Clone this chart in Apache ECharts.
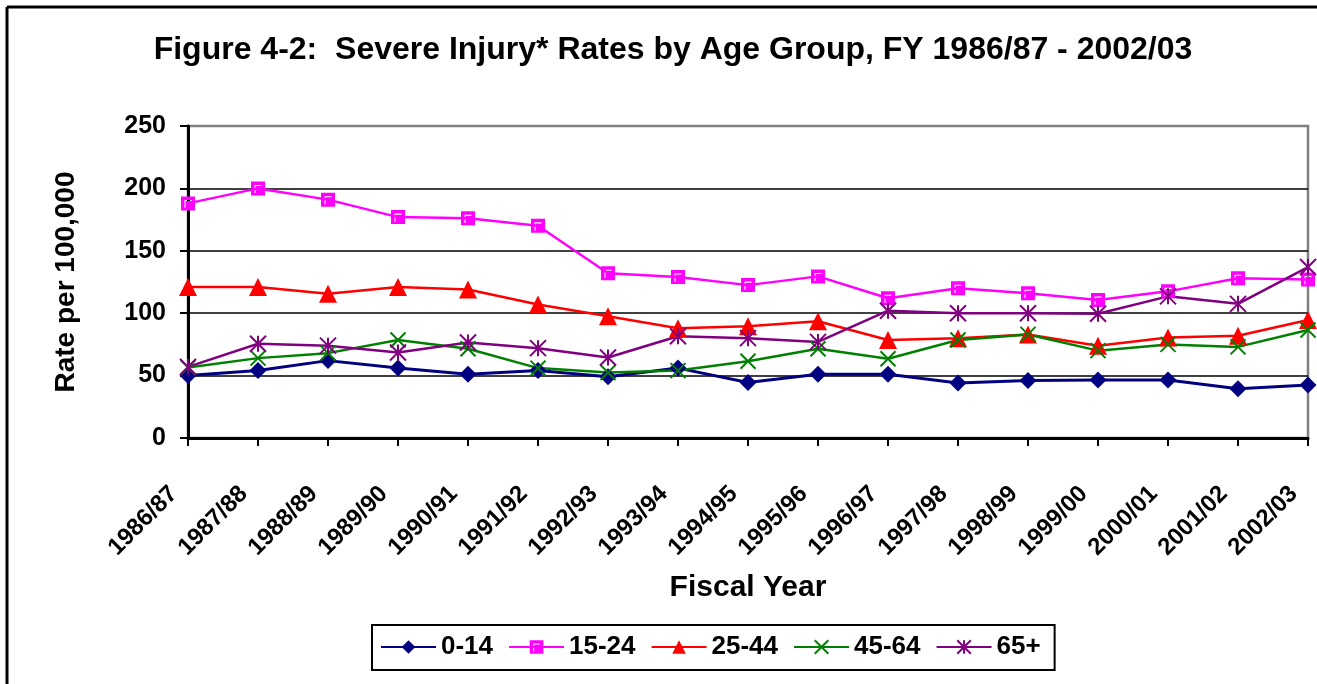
<!DOCTYPE html>
<html lang="en">
<head>
    <meta charset="UTF-8">
    <title>Figure 4-2: Severe Injury Rates by Age Group</title>
    <script src="https://cdn.jsdelivr.net/npm/echarts@6/dist/echarts.min.js"></script>
    <style>
        * {
            margin: 0;
            padding: 0;
            box-sizing: border-box;
        }

        body {
            background-color: #ffffff;
            overflow: hidden;
        }

        #chart {
            width: 1317px;
            height: 684px;
        }
    </style>
</head>
<body>
    <div id="chart"></div>

    <script>
        // fiscal years
        const years = ['1986/87', '1987/88', '1988/89', '1989/90', '1990/91', '1991/92', '1992/93', '1993/94',
            '1994/95', '1995/96', '1996/97', '1997/98', '1998/99', '1999/00', '2000/01', '2001/02', '2002/03'];

        // rates per 100,000, by age group
        const age0to14 = [50, 54, 62, 56, 51, 54, 49, 56, 44.5, 51, 51, 44, 46, 46.5, 46.5, 39.5, 42.5];
        const age15to24 = [188, 200, 191, 177, 176, 170, 132, 129, 122.5, 129.5, 112, 120, 116, 110.5, 117.5, 128, 127];
        const age25to44 = [121, 121, 115.5, 121, 119, 107, 97.5, 88, 89.5, 93.5, 78.5, 80, 83, 74, 80.5, 82, 94.5];
        const age45to64 = [56.5, 64, 68, 78.5, 71.5, 56, 52.5, 54, 61.5, 71.5, 63.5, 78.5, 83, 70, 75, 73, 86.5];
        const age65plus = [57, 75.5, 74, 68.5, 76.5, 72, 64.5, 81.5, 80, 77, 102, 100, 100, 99.5, 113.5, 107.5, 137];

        const yTicks = [0, 50, 100, 150, 200, 250];

        const font = 'Arial, "Liberation Sans", sans-serif';

        // excel-like marker shapes
        const squareMark = 'path://M0,0L12,0L12,12L0,12Z M3,3L3,10L3.9,10L3.9,3.9L9,3.9L9,3Z';
        const crossMark = 'path://M0,0L10,10M10,0L0,10';
        const starMark = 'path://M0,0L10,10M10,0L0,10M5,0L5,10';

        const chart = echarts.init(document.getElementById('chart'));

        function lineSeries(name, data, color, symbol, size, extra) {
            return Object.assign({
                name: name,
                type: 'line',
                data: data,
                symbol: symbol,
                symbolSize: size,
                lineStyle: { color: color, width: 2.5 },
                itemStyle: { color: color },
                emphasis: { disabled: true }
            }, extra || {});
        }

        chart.setOption({
            animation: false,
            backgroundColor: '#ffffff',
            title: {
                text: 'Figure 4-2:  Severe Injury* Rates by Age Group, FY 1986/87 - 2002/03',
                left: 668,
                textAlign: 'center',
                top: 29,
                textStyle: {
                    fontFamily: font,
                    fontSize: 32,
                    fontWeight: 'bold',
                    color: '#000'
                }
            },
            // outer frame: only top and left edges are visible
            graphic: [{
                type: 'line',
                shape: { x1: 7, y1: 7, x2: 1317, y2: 7 },
                style: { stroke: '#000', lineWidth: 3 },
                silent: true
            }, {
                type: 'line',
                shape: { x1: 7, y1: 7, x2: 7, y2: 684 },
                style: { stroke: '#000', lineWidth: 3 },
                silent: true
            }],
            legend: {
                left: 372,
                top: 625,
                itemWidth: 55,
                itemHeight: 17,
                itemGap: 15,
                padding: [9, 14, 10, 8],
                borderColor: '#000',
                borderWidth: 2,
                textStyle: {
                    fontFamily: font,
                    fontSize: 26,
                    fontWeight: 'bold',
                    color: '#000'
                }
            },
            grid: {
                left: 188,
                right: 9,
                top: 126,
                bottom: 246,
                show: true,
                borderColor: '#808080',
                borderWidth: 2.5
            },
            xAxis: {
                type: 'category',
                data: years,
                boundaryGap: false,
                name: 'Fiscal Year',
                nameLocation: 'middle',
                nameGap: 135,
                nameTextStyle: {
                    fontFamily: font,
                    fontSize: 30,
                    fontWeight: 'bold',
                    color: '#000'
                },
                axisLine: { lineStyle: { color: '#000', width: 3 } },
                axisTick: { show: true, length: 8, lineStyle: { color: '#000', width: 2 } },
                axisLabel: {
                    rotate: 45,
                    margin: 38,
                    padding: [0, 20, 0, 0],
                    interval: 0,
                    fontFamily: font,
                    fontSize: 24,
                    fontWeight: 'bold',
                    color: '#000'
                },
                splitLine: { show: false }
            },
            yAxis: {
                type: 'value',
                min: yTicks[0],
                max: yTicks[yTicks.length - 1],
                interval: 50,
                name: 'Rate per 100,000',
                nameLocation: 'middle',
                nameGap: 108,
                nameTextStyle: {
                    fontFamily: font,
                    fontSize: 28,
                    fontWeight: 'bold',
                    color: '#000'
                },
                axisLine: { show: true, lineStyle: { color: '#000', width: 3 } },
                axisTick: { show: true, length: 8, lineStyle: { color: '#000', width: 2 } },
                axisLabel: {
                    margin: 22,
                    fontFamily: font,
                    fontSize: 25,
                    fontWeight: 'bold',
                    color: '#000'
                },
                splitLine: {
                    show: true,
                    lineStyle: { color: ['#000', '#000', '#000', '#000', '#000', '#808080'], width: 1.5 }
                }
            },
            series: [
                lineSeries('0-14', age0to14, '#000080', 'diamond', 17, { lineStyle: { color: '#000080', width: 3 } }),
                lineSeries('15-24', age15to24, '#ff00ff', squareMark, 14),
                lineSeries('25-44', age25to44, '#ff0000', 'triangle', 18),
                lineSeries('45-64', age45to64, '#008000', crossMark, 15, {
                    itemStyle: { color: '#008000', borderColor: '#008000', borderWidth: 2 }
                }),
                lineSeries('65+', age65plus, '#800080', starMark, 16, {
                    itemStyle: { color: '#800080', borderColor: '#800080', borderWidth: 2 }
                })
            ]
        });

        window.addEventListener('resize', function () {
            chart.resize();
        });
    </script>
</body>
</html>
